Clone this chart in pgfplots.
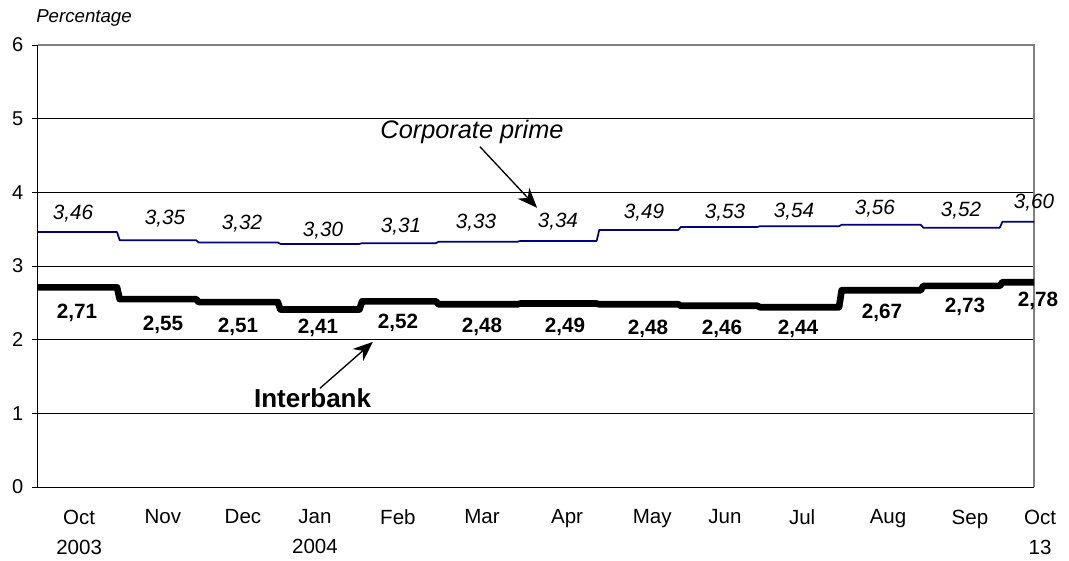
\documentclass[border=0pt]{standalone}
\usepackage{pgfplots}
\pgfplotsset{compat=1.18}
\usepackage{pgfplotstable}
\usepackage{fontspec}
\setmainfont{Liberation Sans}
\usetikzlibrary{arrows.meta}

\definecolor{primeblue}{RGB}{0,0,128}
\definecolor{frame}{RGB}{128,128,128}

% Monthly averages, held constant over each month (x = days since 1 Oct 2003)
\pgfplotstableread{
d   v
0   3.46
30  3.46
31  3.35
60  3.35
61  3.32
91  3.32
92  3.30
122 3.30
123 3.31
151 3.31
152 3.33
182 3.33
183 3.34
212 3.34
213 3.49
243 3.49
244 3.53
273 3.53
274 3.54
304 3.54
305 3.56
335 3.56
336 3.52
365 3.52
366 3.60
378 3.60
}\prime

\pgfplotstableread{
d   v
0   2.71
30  2.71
31  2.55
60  2.55
61  2.51
91  2.51
92  2.41
122 2.41
123 2.52
151 2.52
152 2.48
182 2.48
183 2.49
212 2.49
213 2.48
243 2.48
244 2.46
273 2.46
274 2.44
304 2.44
305 2.67
335 2.67
336 2.73
365 2.73
366 2.78
378 2.78
}\interbank

% Label positions (day) and vertical offsets (pt) for the value labels
\pgfplotstableread{
x     v     dy
13.3  3.46  14.25
48.2  3.35  16.5
77.4  3.32  14.25
108.2 3.30  9.75
137.8 3.31  12.75
166.2 3.33  14.25
197.3 3.34  14.25
230.0 3.49  12.75
260.7 3.53  10.5
286.9 3.54  11.25
317.6 3.56  12
350.3 3.52  12.75
378.0 3.60  14.25
}\primelab

\pgfplotstableread{
x     v     dy
14.8  2.71  -19.5
47.4  2.55  -19.5
75.9  2.51  -18.75
106.3 2.41  -13.5
136.6 2.52  -16.5
168.5 2.48  -17.25
200.0 2.49  -17.25
231.5 2.48  -18.75
259.6 2.46  -17.25
288.4 2.44  -16.5
320.3 2.67  -17.25
351.8 2.73  -15.75
379.5 2.78  -14.25
}\interlab

\begin{document}
\begin{tikzpicture}
\begin{axis}[
  scale only axis,
  width=747pt, height=331.5pt,
  xmin=0, xmax=378,
  ymin=0, ymax=6,
  ytick={0,1,...,6},
  axis x line*=bottom,
  axis y line*=left,
  axis line style={black, line width=0.75pt},
  y axis line style={-},
  x axis line style={-},
  ymajorgrids,
  major grid style={black, line width=0.75pt},
  ytick style={black, line width=0.75pt},
  tick align=outside,
  major tick length=4.5pt,
  xtick={15.6,47.4,77.8,105.1,136.6,168.5,200.8,233.1,260.7,290,322.6,353.7},
  xticklabels={Oct\\2003,Nov,Dec,Jan\\2004,Feb,Mar,Apr,May,Jun,Jul,Aug,Sep},
  extra x ticks={378},
  extra x tick labels={Oct\\13},
  extra x tick style={xticklabel style={xshift=4.5pt}},
  xtick style={draw=none},
  xticklabel style={align=center, font=\fontsize{15.4}{22.5}\selectfont, anchor=north, yshift=-9pt},
  yticklabel style={font=\fontsize{15}{17}\selectfont, xshift=-3pt},
  /pgf/number format/assume math mode=true,
  clip=false,
]
% frame on top and right
\draw[frame, line width=1.5pt] (rel axis cs:0,1) -- (rel axis cs:1,1) -- (rel axis cs:1,0);

\addplot[primeblue, line width=1.3pt, line join=round, mark=none] table[x=d, y=v] {\prime};
\addplot[black, line width=5pt, line join=round, mark=none] table[x=d, y=v] {\interbank};

\addplot[draw=none, mark=none,
  visualization depends on={\thisrow{dy}\as\dy},
  nodes near coords={\pgfmathprintnumber[fixed,fixed zerofill,precision=2,use comma,assume math mode=true]{\pgfplotspointmeta}},
  nodes near coords align={center},
  every node near coord/.append style={font=\itshape\fontsize{15.5}{18}\selectfont, black, yshift=\dy pt, inner sep=0pt},
] table[x=x, y=v] {\primelab};

\addplot[draw=none, mark=none,
  visualization depends on={\thisrow{dy}\as\dy},
  nodes near coords={\pgfmathprintnumber[fixed,fixed zerofill,precision=2,use comma,assume math mode=true]{\pgfplotspointmeta}},
  nodes near coords align={center},
  every node near coord/.append style={font=\bfseries\fontsize{15.5}{18}\selectfont, black, yshift=\dy pt, inner sep=0pt},
] table[x=x, y=v] {\interlab};

% series annotations
\node[font=\itshape\fontsize{19}{22}\selectfont] at (axis cs:164.7,4.82) {Corporate prime};
\draw[line width=1pt, -{Stealth[length=15pt, width=12pt]}] (axis cs:167.7,4.62) -- (axis cs:189.4,3.79);
\node[font=\bfseries\fontsize{19.5}{22}\selectfont] at (axis cs:104.2,1.20) {Interbank};
\draw[line width=1pt, -{Stealth[length=15pt, width=12pt]}] (axis cs:107,1.34) -- (axis cs:127.1,1.97);
\end{axis}
\node[anchor=west, font=\itshape\fontsize{14}{16}\selectfont, inner sep=0pt] at (-1.5pt,351.75pt) {Percentage};
\path (-28.5pt,-54.75pt) rectangle (773.25pt,365.25pt);
\end{tikzpicture}
\end{document}
